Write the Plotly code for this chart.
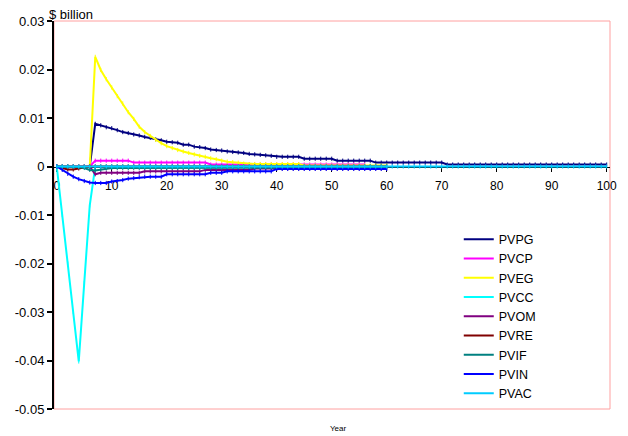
import plotly.graph_objects as go

# ---------------- data ----------------
YEARS_LONG = list(range(0, 101))
YEARS_60 = list(range(0, 61))
YEARS_CP = list(range(0, 57))

PVPG = [0, 0, 0, 0, 0, 0, 0, 0.0088, 0.0085, 0.0081,
        0.0079, 0.0075, 0.0071, 0.0069, 0.0066, 0.0064, 0.0061, 0.0059, 0.0056, 0.0054,
        0.0051, 0.0050, 0.0049, 0.0045, 0.0045, 0.0041, 0.0040, 0.0038, 0.0035, 0.0034,
        0.0033, 0.0031, 0.0030, 0.0029, 0.0028, 0.0026, 0.0025, 0.0024, 0.0023, 0.0022,
        0.0020, 0.0020, 0.0020, 0.0020, 0.0020, 0.0016, 0.0016, 0.0016, 0.0016, 0.0016,
        0.0016, 0.0012, 0.0012, 0.0012, 0.0012, 0.0012, 0.0012, 0.0012, 0.0008, 0.0008,
        0.0008, 0.0008, 0.0008, 0.0008, 0.0008, 0.0008, 0.0008, 0.0008, 0.0008, 0.0008,
        0.0008, 0.0004, 0.0004, 0.0004, 0.0004, 0.0004, 0.0004, 0.0004, 0.0004, 0.0004,
        0.0004, 0.0004, 0.0004, 0.0004, 0.0004, 0.0004, 0.0004, 0.0004, 0.0004, 0.0004,
        0.0004, 0.0004, 0.0004, 0.0004, 0.0004, 0.0004, 0.0004, 0.0004, 0.0004, 0.0004,
        0.0004]

PVCP = [0, 0, 0, 0, 0, 0, 0, 0.0012, 0.0012, 0.0012,
        0.0012, 0.0012, 0.0012, 0.0012, 0.0008, 0.0008, 0.0008, 0.0008, 0.0008, 0.0008,
        0.0008, 0.0008, 0.0008, 0.0008, 0.0008, 0.0008, 0.0008, 0.0008, 0.0004, 0.0004,
        0.0004, 0.0004, 0.0004, 0.0004, 0.0004, 0.0004, 0.0004, 0.0004, 0.0004, 0.0004,
        0.0004, 0.0004, 0.0004, 0.0004, 0.0004, 0.0004, 0.0004, 0.0004, 0.0004, 0.0004,
        0.0004, 0.0004, 0.0004, 0.0004, 0.0004, 0.0004, 0.0004]

PVEG = [0, 0, 0, 0, 0, 0, 0, 0.0226, 0.0199, 0.0180,
        0.0163, 0.0145, 0.0130, 0.0112, 0.0098, 0.0082, 0.0071, 0.0063, 0.0055, 0.0048,
        0.0042, 0.0038, 0.0034, 0.0031, 0.0028, 0.0025, 0.0022, 0.0020, 0.0017, 0.0015,
        0.0012, 0.0010, 0.0009, 0.0008, 0.0006, 0.0005, 0.0005, 0.0005, 0.0005, 0.0005,
        0.0005, 0.0005, 0.0005, 0.0005, 0.0005, 0.0002, 0.0002, 0.0002, 0.0002, 0.0002,
        0.0002, 0.0002, 0.0002, 0.0002, 0.0002, 0.0002, 0.0002, 0.0002, 0.0002, 0.0002,
        0.0002]

PVCC = [0, -0.0100, -0.0200, -0.0300, -0.0402, -0.0240, -0.0080, 0, 0, 0,
        0, 0, 0, 0, 0, 0, 0, 0, 0, 0,
        0, 0, 0, 0, 0, 0, 0, 0, 0, 0,
        0, 0, 0, 0, 0, 0, 0, 0, 0, 0,
        0, 0, 0, 0, 0, 0, 0, 0, 0, 0,
        0, 0, 0, 0, 0, 0, 0, 0, 0, 0,
        0]

PVOM = [0, 0, 0, 0, 0, 0, 0, -0.0016, -0.0013, -0.0013,
        -0.0013, -0.0013, -0.0013, -0.0013, -0.0013, -0.0013, -0.0010, -0.0010, -0.0010, -0.0010,
        -0.0010, -0.0010, -0.0010, -0.0010, -0.0010, -0.0010, -0.0010, -0.0007, -0.0007, -0.0007,
        -0.0007, -0.0007, -0.0007, -0.0007, -0.0007, -0.0007, -0.0004, -0.0004, -0.0004, -0.0004,
        -0.0004, -0.0004, -0.0004, -0.0004, -0.0004, -0.0004, -0.0004, -0.0004, -0.0004, -0.0004,
        -0.0004, -0.0004, -0.0004, -0.0004, -0.0004, -0.0004, -0.0004, -0.0004, -0.0004, -0.0004,
        -0.0004]

PVRE = [0, -0.0003, -0.0006, -0.0006, -0.0004, -0.0001, 0, 0, 0, 0,
        0, 0, 0, 0, 0, 0, 0, 0, 0, 0,
        0, 0, 0, 0, 0, 0, 0, 0, 0, 0,
        0, 0, 0, 0, 0, 0, 0, 0, 0, 0,
        0, 0, 0, 0, 0, 0, 0, 0, 0, 0,
        0, 0, 0, 0, 0, 0, 0, 0, 0, 0,
        0]

PVIF = [0, 0, 0, 0, -0.0001, -0.0003, -0.0007, -0.0008, -0.0006, -0.0004,
        -0.0003, -0.0003, -0.0003, -0.0003, -0.0003, -0.0003, -0.0003, -0.0003, -0.0003, -0.0003,
        -0.0003, -0.0003, -0.0003, -0.0003, -0.0003, -0.0003, -0.0003, -0.0003, -0.0003, -0.0003,
        -0.0003, -0.0002, -0.0002, -0.0002, -0.0002, -0.0002, -0.0002, -0.0002, -0.0002, -0.0002,
        -0.0002, -0.0002, -0.0002, -0.0002, -0.0002, -0.0002, -0.0002, -0.0002, -0.0002, -0.0002,
        -0.0002, -0.0002, -0.0002, -0.0002, -0.0002, -0.0002, -0.0002, -0.0002, -0.0002, -0.0002,
        -0.0002]

PVIN = [0, -0.0007, -0.0015, -0.0021, -0.0026, -0.0030, -0.0033, -0.0034, -0.0034, -0.0034,
        -0.0031, -0.0030, -0.0028, -0.0025, -0.0024, -0.0022, -0.0021, -0.0021, -0.0021, -0.0021,
        -0.0016, -0.0016, -0.0016, -0.0016, -0.0016, -0.0016, -0.0016, -0.0016, -0.0013, -0.0013,
        -0.0013, -0.0010, -0.0010, -0.0010, -0.0010, -0.0010, -0.0010, -0.0010, -0.0010, -0.0010,
        -0.0005, -0.0005, -0.0005, -0.0005, -0.0005, -0.0005, -0.0005, -0.0005, -0.0005, -0.0005,
        -0.0005, -0.0005, -0.0005, -0.0005, -0.0005, -0.0005, -0.0005, -0.0005, -0.0005, -0.0005,
        -0.0005]

PVAC = [0] * 101

SERIES_NAMES = ["PVPG", "PVCP", "PVEG", "PVCC", "PVOM", "PVRE", "PVIF", "PVIN", "PVAC"]
SERIES_X = [YEARS_LONG, YEARS_CP, YEARS_60, YEARS_60, YEARS_60, YEARS_60, YEARS_60, YEARS_60, YEARS_LONG]
SERIES_Y = [PVPG, PVCP, PVEG, PVCC, PVOM, PVRE, PVIF, PVIN, PVAC]
COLORS = ["#000080", "#FF00FF", "#FFFF00", "#00FFFF", "#800080", "#800000", "#008080", "#0000FF", "#00CCFF"]

X_TICKS = [0, 10, 20, 30, 40, 50, 60, 70, 80, 90, 100]
X_TICKTEXT = ["0", "10", "20", "30", "40", "50", "60", "70", "80", "90", "100"]
Y_TICKS = [-0.05, -0.04, -0.03, -0.02, -0.01, 0, 0.01, 0.02, 0.03]
Y_TICKTEXT = ["-0.05", "-0.04", "-0.03", "-0.02", "-0.01", "0", "0.01", "0.02", "0.03"]

FONT = "Liberation Sans, Arial, sans-serif"

fig = go.Figure()
for name, xs, ys, col in zip(SERIES_NAMES, SERIES_X, SERIES_Y, COLORS):
    fig.add_trace(go.Scatter(
        x=xs, y=ys, name=name, mode="lines",
        line=dict(color=col, width=2),
    ))
    fig.add_trace(go.Scatter(
        x=xs, y=ys, name=name, mode="markers", showlegend=False,
        hoverinfo="skip",
        marker=dict(symbol="line-ns", size=3, line=dict(width=1, color=col), color=col),
    ))

fig.update_layout(
    width=628, height=436,
    margin=dict(l=54, r=18, t=21, b=27, autoexpand=False),
    paper_bgcolor="white", plot_bgcolor="white",
    font=dict(family=FONT, color="black", size=13),
    showlegend=True,
    legend=dict(x=0.728, y=0.475, xanchor="left", yanchor="top",
                bgcolor="rgba(0,0,0,0)", borderwidth=0, tracegroupgap=0,
                font=dict(family=FONT, size=12.5, color="black")),
    xaxis=dict(range=[-0.5, 100.6], anchor="free", position=0.625,
               tickvals=X_TICKS, ticktext=X_TICKTEXT,
               showline=True, linecolor="black", linewidth=1,
               ticks="outside", ticklen=4, tickcolor="black", tickwidth=1,
               ticklabelstandoff=4,
               showgrid=False, zeroline=False, layer="below traces",
               tickfont=dict(size=12)),
    yaxis=dict(range=[-0.05, 0.03], tickvals=Y_TICKS, ticktext=Y_TICKTEXT,
               showline=True, linecolor="black", linewidth=2,
               ticks="outside", ticklen=5, tickcolor="black", tickwidth=1.5,
               showgrid=False, zeroline=False, tickfont=dict(size=13)),
    shapes=[dict(type="rect", xref="paper", yref="paper", x0=0, x1=1, y0=0, y1=1,
                 line=dict(color="#FFA0A0", width=1), layer="below")],
    annotations=[
        dict(text="$ billion", xref="paper", yref="paper", x=-0.013, y=1.0155,
             xanchor="left", yanchor="middle", showarrow=False, font=dict(size=13)),
        dict(text="Year", xref="paper", yref="paper", x=0.511, y=-0.049,
             xanchor="center", yanchor="middle", showarrow=False, font=dict(size=8)),
    ],
)

fig.write_html("out.html")
